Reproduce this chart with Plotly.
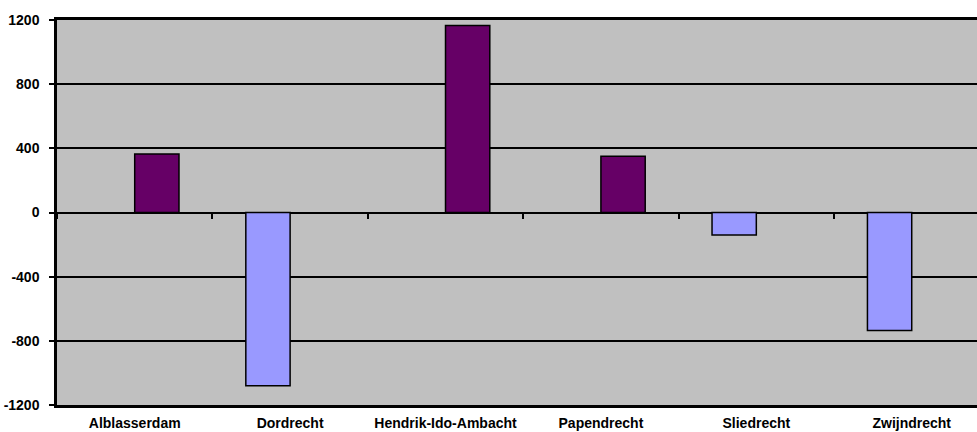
import plotly.graph_objects as go

# gemeenten and their values
GEMEENTEN = ["Alblasserdam", "Dordrecht", "Hendrik-Ido-Ambacht",
             "Papendrecht", "Sliedrecht", "Zwijndrecht"]
AFNAME = [None, -1080, None, None, -140, -735]      # light blue series
TOENAME = [365, None, 1165, 350, None, None]         # dark purple series
Y_TICKS = [-1200, -800, -400, 0, 400, 800, 1200]

FONT = "Arial, 'Liberation Sans', sans-serif"
LINE = dict(color="black", width=1.5)

fig = go.Figure()
fig.add_trace(go.Bar(x=GEMEENTEN, y=AFNAME, marker=dict(color="#9999FF", line=LINE),
                     hoverinfo="x+y"))
fig.add_trace(go.Bar(x=GEMEENTEN, y=TOENAME, marker=dict(color="#660066", line=LINE),
                     hoverinfo="x+y"))
# invisible carrier for the label axis at the bottom
fig.add_trace(go.Scatter(x=GEMEENTEN, y=[0] * len(GEMEENTEN), xaxis="x2", mode="markers",
                         marker=dict(opacity=0), hoverinfo="skip", showlegend=False))

# the chart is cut off at the right edge: the last category is not fully visible
xrange = [-0.5, 5.42]

fig.update_layout(
    width=977, height=432,
    margin=dict(l=57, r=0, t=20, b=27),
    paper_bgcolor="white", plot_bgcolor="#C0C0C0",
    barmode="group", bargap=0.43, bargroupgap=0,
    showlegend=False,
    font=dict(family=FONT, size=14, color="black"),
    # category ticks on the zero line
    xaxis=dict(range=xrange, anchor="free", position=0.5, ticks="outside",
               tickson="boundaries", ticklen=5, tickwidth=1.5, tickcolor="black",
               showticklabels=False, showgrid=False, showline=False, zeroline=False),
    # category labels at the bottom plus the frame
    xaxis2=dict(range=xrange, overlaying="x", anchor="y", side="bottom",
                showline=True, mirror=True, linecolor="black", linewidth=2.5,
                ticks="", showgrid=False, zeroline=False,
                tickfont=dict(family=FONT, size=14, color="black", weight="bold"),
                ticklabelstandoff=3),
    yaxis=dict(range=[-1200, 1200], tickvals=Y_TICKS,
               ticktext=[f"<b>{v}</b>" for v in Y_TICKS],
               showgrid=True, gridcolor="black", gridwidth=1.5,
               zeroline=True, zerolinecolor="black", zerolinewidth=1.5,
               showline=True, linecolor="black", linewidth=2.5,
               ticks="outside", ticklen=5, tickwidth=1.5, tickcolor="black",
               tickfont=dict(family=FONT, size=14, color="black", weight="bold"),
               ticklabelstandoff=7),
)

# drop the default 8px body margin so the figure sits at the window's corner
fig.write_html("out.html", config={"displayModeBar": False},
               post_script="document.body.style.margin = '0';")
